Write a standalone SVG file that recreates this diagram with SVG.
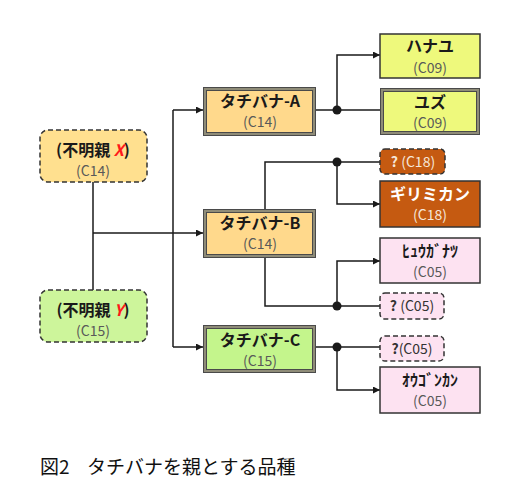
<svg xmlns="http://www.w3.org/2000/svg" width="527" height="500" viewBox="0 0 527 500">
<defs>
<style>
.t{font-family:"Noto Sans CJK JP","Liberation Sans",sans-serif;font-weight:bold;font-size:16px;fill:#1a1a1a;text-anchor:middle}
.s{font-family:"Noto Sans CJK JP","Liberation Sans",sans-serif;font-size:14px;fill:#595959;text-anchor:middle}
.w{fill:#f6e6d8}
.ln{fill:none;stroke:#1a1a1a;stroke-width:1.5}
.dash{stroke:#333;stroke-width:1.5;stroke-dasharray:5,3}
.solid{stroke:#333;stroke-width:1.5}
.o{fill:none;stroke:#4a4a4a;stroke-width:1}
.b{stroke:#8f8c78;stroke-width:3}
</style>
<marker id="ar" viewBox="0 0 10 10" refX="10" refY="5" markerWidth="7" markerHeight="7" markerUnits="userSpaceOnUse" orient="auto">
<path d="M0,0 L10,5 L0,10 z" fill="#1a1a1a"/>
</marker>
</defs>
<rect width="527" height="500" fill="#ffffff"/>

<g id="connectors">
<path class="ln" d="M93,182 V290"/>
<path class="ln" d="M93,233 H203" marker-end="url(#ar)"/>
<path class="ln" d="M173,110 V347"/>
<path class="ln" d="M173,110 H203" marker-end="url(#ar)"/>
<path class="ln" d="M173,347 H203" marker-end="url(#ar)"/>
<path class="ln" d="M316,110 H380"/>
<path class="ln" d="M337,110 V55 H380" marker-end="url(#ar)"/>
<path class="ln" d="M265,209 V162 H380"/>
<path class="ln" d="M337,162 V204 H380" marker-end="url(#ar)"/>
<path class="ln" d="M265,258 V306 H380"/>
<path class="ln" d="M337,306 V261 H380" marker-end="url(#ar)"/>
<path class="ln" d="M316,347 H380"/>
<path class="ln" d="M337,347 V390 H380" marker-end="url(#ar)"/>
<circle cx="337" cy="110" r="4.5" fill="#1a1a1a"/>
<circle cx="337" cy="162" r="4.5" fill="#1a1a1a"/>
<circle cx="337" cy="306" r="4.5" fill="#1a1a1a"/>
<circle cx="337" cy="347" r="4.5" fill="#1a1a1a"/>
</g>

<g id="parentX">
<rect x="40" y="130" width="107" height="52" rx="8" fill="#FFE08F" class="dash"/>
<text class="t" x="93" y="156" font-size="17">(不明親 <tspan fill="#ff1a1a" font-style="italic">X</tspan>)</text>
<text class="s" x="93" y="176">(C14)</text>
</g>

<g id="parentY">
<rect x="40" y="290" width="107" height="52" rx="8" fill="#CDF59B" class="dash"/>
<text class="t" x="93" y="316" font-size="17">(不明親 <tspan fill="#ff1a1a" font-style="italic">Y</tspan>)</text>
<text class="s" x="93" y="336">(C15)</text>
</g>

<g id="tachibanaA">
<rect x="205" y="89" width="109" height="45" fill="#FFD98C" class="b"/>
<rect x="203.5" y="87.5" width="112" height="48" class="o"/>
<rect x="206.5" y="90.5" width="106" height="42" class="o"/>
<text class="t" x="260" y="107">タチバナ-A</text>
<text class="s" x="260" y="127">(C14)</text>
</g>

<g id="tachibanaB">
<rect x="205" y="211" width="109" height="45" fill="#FFD98C" class="b"/>
<rect x="203.5" y="209.5" width="112" height="48" class="o"/>
<rect x="206.5" y="212.5" width="106" height="42" class="o"/>
<text class="t" x="260" y="229">タチバナ-B</text>
<text class="s" x="260" y="249">(C14)</text>
</g>

<g id="tachibanaC">
<rect x="205" y="327" width="109" height="44" fill="#C4F58C" class="b"/>
<rect x="203.5" y="325.5" width="112" height="47" class="o"/>
<rect x="206.5" y="328.5" width="106" height="41" class="o"/>
<text class="t" x="260" y="346">タチバナ-C</text>
<text class="s" x="260" y="366">(C15)</text>
</g>

<g id="hanayu">
<rect x="380" y="34" width="100" height="44" fill="#EEF97C" class="solid"/>
<text class="t" x="430" y="52">ハナユ</text>
<text class="s" x="430" y="73">(C09)</text>
</g>

<g id="yuzu">
<rect x="382" y="90" width="96" height="43" fill="#EEF97C" class="b"/>
<rect x="380.5" y="88.5" width="99" height="46" class="o"/>
<rect x="383.5" y="91.5" width="93" height="40" class="o"/>
<text class="t" x="430" y="108">ユズ</text>
<text class="s" x="430" y="128">(C09)</text>
</g>

<g id="q18">
<rect x="380" y="149" width="65" height="25" rx="5" fill="#C55A11" class="dash"/>
<text class="s w" x="413" y="167"><tspan font-weight="bold">?</tspan> (C18)</text>
</g>

<g id="girimikan">
<rect x="380" y="181" width="100" height="46" fill="#C55A11" class="solid"/>
<text class="t" x="430" y="200" style="fill:#ffffff">ギリミカン</text>
<text class="s w" x="430" y="220">(C18)</text>
</g>

<g id="hyuganatsu">
<rect x="380" y="238" width="100" height="45" fill="#FDE2F1" class="solid"/>
<text class="t" x="430" y="257" font-size="14">ﾋｭｳｶﾞﾅﾂ</text>
<text class="s" x="430" y="277">(C05)</text>
</g>

<g id="q05a">
<rect x="380" y="293" width="64" height="26" rx="5" fill="#FDE2F1" class="dash"/>
<text class="s" x="412" y="311" style="fill:#333"><tspan font-weight="bold">?</tspan> (C05)</text>
</g>

<g id="q05b">
<rect x="380" y="336" width="64" height="25" rx="5" fill="#FDE2F1" class="dash"/>
<text class="s" x="412" y="354" style="fill:#333"><tspan font-weight="bold">?</tspan>(C05)</text>
</g>

<g id="ougonkan">
<rect x="380" y="367" width="100" height="46" fill="#FDE2F1" class="solid"/>
<text class="t" x="430" y="386" font-size="14">ｵｳｺﾞﾝｶﾝ</text>
<text class="s" x="430" y="406">(C05)</text>
</g>

<text x="40" y="474" font-family="'Noto Sans CJK JP','Liberation Sans',sans-serif" font-size="19" fill="#111">図2<tspan x="87">タチバナを親とする品種</tspan></text>
</svg>
